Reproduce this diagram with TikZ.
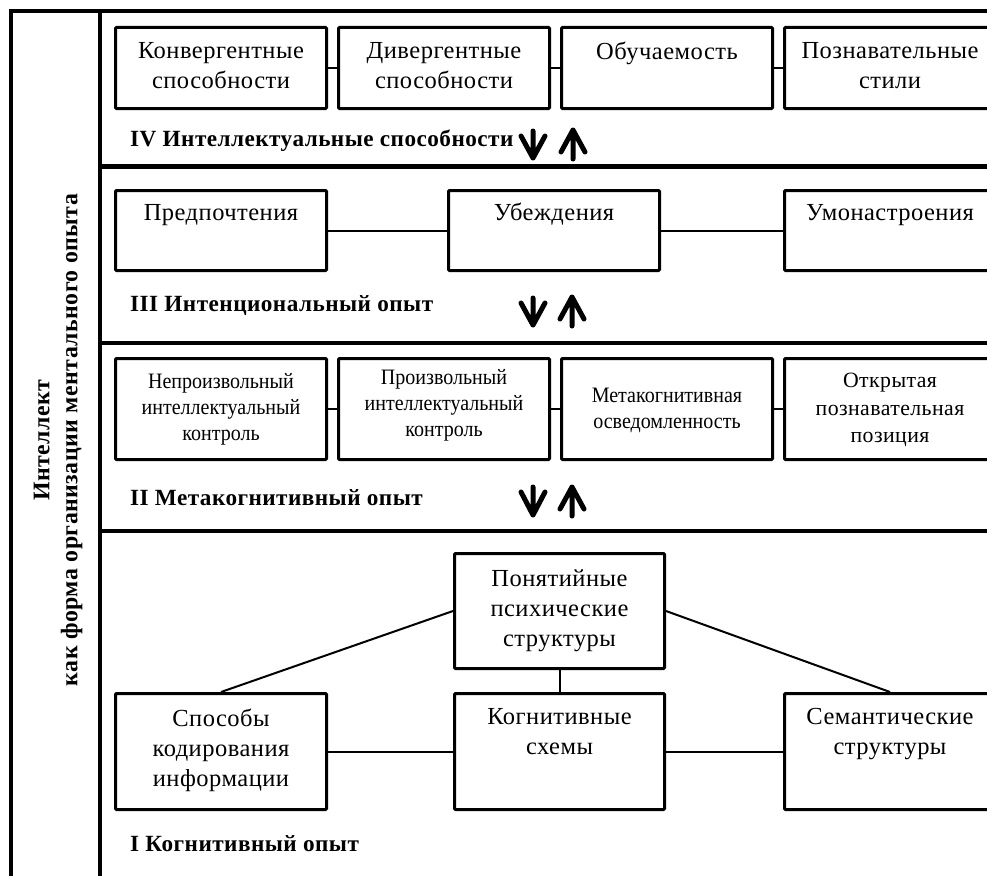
\documentclass[tikz,border=0pt]{standalone}
\usepackage{fontspec}
\setmainfont{Liberation Serif}[LetterSpace=2]
\newfontfamily\narrowfont[FakeStretch=0.91]{Liberation Serif}
\begin{document}
\begin{tikzpicture}[x=1pt,y=-1pt,
  frame/.style={line width=4.5pt},
  box/.style={draw, line width=3pt, rounded corners=1pt, minimum width=211pt, inner sep=0pt, anchor=north west},
  btxt/.style={font=\fontsize{24.5}{30}\selectfont, align=center, inner sep=0pt, anchor=north, execute at begin node={\rule{0pt}{18pt}}},
  ntxt/.style={font=\narrowfont\fontsize{22}{26}\selectfont, align=center, inner sep=0pt, anchor=north},
  otxt/.style={font=\fontsize{21.8}{27.5}\selectfont, align=center, inner sep=0pt, anchor=north},
  lvl/.style={font=\bfseries\fontsize{23.2}{27}\selectfont, anchor=west, inner sep=0pt},
  conn/.style={line width=2pt},
  arr/.style={line width=5pt, line cap=round, line join=round}]
\useasboundingbox (0,0) rectangle (987,875);
% frame
\draw[frame] (11,1000) -- (11,11) -- (1000,11);
\draw[frame] (100,11) -- (100,1000);
\draw[frame] (100,166.5) -- (1000,166.5);
\draw[frame] (100,343) -- (1000,343);
\draw[frame] (100,531) -- (1000,531);
% title
\node[rotate=90, font=\bfseries\fontsize{23.8}{28}\selectfont, align=center, inner sep=0pt] (title) at (58,440) {Интеллект\\как форма организации ментального опыта};
% row IV
\node[box, minimum height=81pt, label={[btxt, yshift=-16.5pt]north:{Конвергентные\\способности}}] (k1) at (114,26) {};
\node[box, minimum height=81pt, label={[btxt, yshift=-16.5pt]north:{Дивергентные\\способности}}] (k2) at (337,26) {};
\node[box, minimum height=81pt, label={[btxt, yshift=-15.5pt]north:{Обучаемость}}] (k3) at (560,26) {};
\node[box, minimum height=81pt, label={[btxt, yshift=-16.5pt]north:{Познавательные\\стили}}] (k4) at (783,26) {};
\draw[conn] (k1.east) -- (k2.west);
\draw[conn] (k2.east) -- (k3.west);
\draw[conn] (k3.east) -- (k4.west);
\node[lvl] (l4) at (130,141) {IV Интеллектуальные способности};
% row III
\node[box, minimum height=80pt, label={[btxt, yshift=-13.5pt]north:{Предпочтения}}] (p1) at (114,189) {};
\node[box, minimum height=80pt, label={[btxt, yshift=-13.5pt]north:{Убеждения}}] (p2) at (447,189) {};
\node[box, minimum height=80pt, label={[btxt, yshift=-13.5pt]north:{Умонастроения}}] (p3) at (783,189) {};
\draw[conn] (p1.east) -- (p2.west);
\draw[conn] (p2.east) -- (p3.west);
\node[lvl] (l3) at (130,306) {III Интенциональный опыт};
% row II
\node[box, minimum height=101pt, label={[ntxt, yshift=-16pt]north:{Непроизвольный\\интеллектуальный\\контроль}}] (m1) at (114,357) {};
\node[box, minimum height=101pt, label={[ntxt, yshift=-12pt]north:{Произвольный\\интеллектуальный\\контроль}}] (m2) at (337,357) {};
\node[box, minimum height=101pt, label={[ntxt, yshift=-31pt]north:{Метакогнитивная\\осведомленность}}] (m3) at (560,357) {};
\node[box, minimum height=101pt, label={[otxt, yshift=-16pt]north:{Открытая\\познавательная\\позиция}}] (m4) at (783,357) {};
\draw[conn] (m1.east) -- (m2.west);
\draw[conn] (m2.east) -- (m3.west);
\draw[conn] (m3.east) -- (m4.west);
\node[lvl] (l2) at (130,498) {II Метакогнитивный опыт};
% row I
\node[box, minimum width=210pt, minimum height=115pt, label={[btxt, yshift=-17.5pt]north:{Понятийные\\психические\\структуры}}] (c0) at (453,552) {};
\node[box, minimum height=116pt, label={[btxt, yshift=-16.5pt]north:{Способы\\кодирования\\информации}}] (c1) at (114,692) {};
\node[box, minimum width=210pt, minimum height=116pt, label={[btxt, yshift=-16.5pt]north:{Когнитивные\\схемы}}] (c2) at (453,692) {};
\node[box, minimum height=116pt, label={[btxt, yshift=-16.5pt]north:{Семантические\\структуры}}] (c3) at (783,692) {};
\draw[conn] (c0.west) -- (c1.north);
\draw[conn] (c0.east) -- (c3.north);
\draw[conn] (c0.south) -- (c2.north);
\draw[conn] (c1.east) -- (c2.west);
\draw[conn] (c2.east) -- (c3.west);
\node[lvl] (l1) at (130,844) {I Когнитивный опыт};
% arrows
\draw[arr] (533,131) -- (533,158) (521,136) -- (533,158) -- (545,136);
\draw[arr] (573,159) -- (573,130) (561,152) -- (573,130) -- (585,152);
\draw[arr] (533,298) -- (533,325) (521,303) -- (533,325) -- (545,303);
\draw[arr] (572,326) -- (572,297) (560,319) -- (572,297) -- (584,319);
\draw[arr] (533,487) -- (533,515) (521,492) -- (533,515) -- (545,492);
\draw[arr] (572,516) -- (572,487) (560,509) -- (572,487) -- (584,509);
\end{tikzpicture}
\end{document}
